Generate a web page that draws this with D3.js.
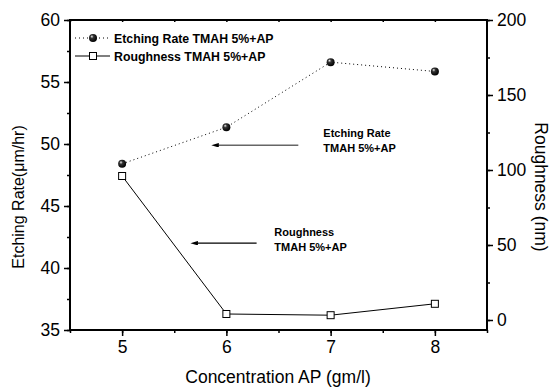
<!DOCTYPE html>
<html>
<head>
<meta charset="utf-8">
<script src="https://cdn.jsdelivr.net/npm/d3@7"></script>
<style>
  body { margin: 0; background: #fff; }
  svg { font-family: Arial, "Liberation Sans", sans-serif; }
</style>
</head>
<body>
<div id="chart"></div>
<script>
// data
const concentration = [5, 6, 7, 8];
const etchingRate = [48.4, 51.35, 56.6, 55.85];
const roughness = [96, 4, 3.2, 10.8];
const leftTicks = [35, 40, 45, 50, 55, 60];
const rightTicks = [0, 50, 100, 150, 200];
const xTicks = [5, 6, 7, 8];
const seriesNames = ['Etching Rate TMAH 5%+AP', 'Roughness TMAH 5%+AP'];

const width = 550, height = 389;
const margin = {top: 20, right: 63, bottom: 59, left: 70};
const innerW = width - margin.left - margin.right;
const innerH = height - margin.top - margin.bottom;

const svg = d3.select('#chart').append('svg')
    .attr('width', width).attr('height', height);

const g = svg.append('g')
    .attr('transform', 'translate(' + margin.left + ',' + margin.top + ')');

const x = d3.scaleLinear().domain([4.5, 8.5]).range([0, innerW]);
const yL = d3.scaleLinear().domain([35, 60]).range([innerH, 0]);
const yR = d3.scaleLinear().domain([-6.67, 200]).range([innerH, 0]);

// minor ticks
const minorX = d3.range(4.5, 8.51, 0.5);
const minorL = d3.range(35, 60.01, 2.5);
const minorR = d3.range(0, 200.01, 25);

function styleAxis(sel) {
    sel.select('.domain').remove();
    sel.selectAll('line').attr('stroke', '#000').attr('stroke-width', 1.5);
    sel.selectAll('text').attr('font-size', 17.5).attr('fill', '#000');
}

g.append('g').attr('transform', 'translate(0,' + innerH + ')')
    .call(d3.axisBottom(x).tickValues(minorX).tickSize(3).tickFormat(''))
    .call(styleAxis);
g.append('g').attr('transform', 'translate(0,' + innerH + ')')
    .call(d3.axisBottom(x).tickValues(xTicks).tickSize(6).tickPadding(5).tickFormat(d3.format('d')))
    .call(styleAxis);

g.append('g')
    .call(d3.axisTop(x).tickValues(minorX).tickSize(-2).tickFormat(''))
    .call(styleAxis);

g.append('g')
    .call(d3.axisLeft(yL).tickValues(minorL).tickSize(3).tickFormat(''))
    .call(styleAxis);
g.append('g')
    .call(d3.axisLeft(yL).tickValues(leftTicks).tickSize(6).tickPadding(4).tickFormat(d3.format('d')))
    .call(styleAxis);

g.append('g').attr('transform', 'translate(' + innerW + ',0)')
    .call(d3.axisRight(yR).tickValues(minorR).tickSize(3).tickFormat(''))
    .call(styleAxis);
g.append('g').attr('transform', 'translate(' + innerW + ',0)')
    .call(d3.axisRight(yR).tickValues(rightTicks).tickSize(6).tickPadding(4).tickFormat(d3.format('d')))
    .call(styleAxis);

// frame
g.append('rect')
    .attr('width', innerW).attr('height', innerH)
    .attr('fill', 'none').attr('stroke', '#000').attr('stroke-width', 2);

// gradient for ball markers
const defs = svg.append('defs');
const grad = defs.append('radialGradient').attr('id', 'ball')
    .attr('cx', '40%').attr('cy', '40%').attr('r', '60%').attr('fx', '35%').attr('fy', '30%');
grad.append('stop').attr('offset', '0%').attr('stop-color', '#eee');
grad.append('stop').attr('offset', '35%').attr('stop-color', '#333');
grad.append('stop').attr('offset', '100%').attr('stop-color', '#000');

const etchData = concentration.map((c, i) => ({x: c, y: etchingRate[i]}));
const roughData = concentration.map((c, i) => ({x: c, y: roughness[i]}));

g.append('path').datum(etchData)
    .attr('fill', 'none').attr('stroke', '#000').attr('stroke-width', 1)
    .attr('stroke-dasharray', '1,3')
    .attr('d', d3.line().x(d => x(d.x)).y(d => yL(d.y)));

g.append('path').datum(roughData)
    .attr('fill', 'none').attr('stroke', '#000').attr('stroke-width', 1)
    .attr('d', d3.line().x(d => x(d.x)).y(d => yR(d.y)));

g.selectAll('.etch').data(etchData).enter().append('circle')
    .attr('cx', d => x(d.x)).attr('cy', d => yL(d.y)).attr('r', 4)
    .attr('fill', 'url(#ball)');

g.selectAll('.rough').data(roughData).enter().append('rect')
    .attr('x', d => x(d.x) - 3.5).attr('y', d => yR(d.y) - 3.5)
    .attr('width', 7).attr('height', 7)
    .attr('fill', '#fff').attr('stroke', '#000').attr('stroke-width', 1);

// legend
const leg = g.append('g').attr('transform', 'translate(5,18)');
leg.append('line').attr('x1', 0).attr('x2', 35).attr('y1', 0).attr('y2', 0)
    .attr('stroke', '#000').attr('stroke-dasharray', '1,3');
leg.append('circle').attr('cx', 18).attr('cy', 0).attr('r', 4).attr('fill', 'url(#ball)');
leg.append('line').attr('x1', 0).attr('x2', 35).attr('y1', 18).attr('y2', 18)
    .attr('stroke', '#000').attr('stroke-width', 1.2);
leg.append('rect').attr('x', 14.5).attr('y', 14.5).attr('width', 7).attr('height', 7)
    .attr('fill', '#fff').attr('stroke', '#000');
leg.selectAll('text').data(seriesNames).enter().append('text')
    .attr('x', 39).attr('y', (d, i) => i * 18 + 4.5)
    .attr('font-size', 12.3).attr('font-weight', 'bold').text(d => d);

// annotations (positions in data units)
const notes = [
    {x1: 6.69, x2: 5.92, y: 49.9, tx: 6.93, ty: 50.6, text: ['Etching Rate', 'TMAH 5%+AP'], color: '#666'},
    {x1: 6.29, x2: 5.72, y: 42, tx: 6.46, ty: 42.6, text: ['Roughness', 'TMAH 5%+AP'], color: '#000'}
];
defs.append('marker')
    .attr('id', 'arr')
    .attr('viewBox', '0 0 10 6').attr('refX', 1).attr('refY', 3)
    .attr('markerWidth', 9).attr('markerHeight', 4.5).attr('markerUnits', 'userSpaceOnUse')
    .attr('orient', 'auto')
    .append('path').attr('d', 'M10,3L0,0L0,6Z').attr('fill', '#000');

notes.forEach(a => {
    g.append('line')
        .attr('x1', x(a.x1)).attr('x2', x(a.x2))
        .attr('y1', yL(a.y)).attr('y2', yL(a.y))
        .attr('stroke', a.color).attr('stroke-width', 1.3)
        .attr('marker-end', 'url(#arr)');
    g.append('text')
        .attr('font-size', 11).attr('font-weight', 'bold')
        .selectAll('tspan').data(a.text).enter().append('tspan')
        .attr('x', x(a.tx)).attr('y', (d, i) => yL(a.ty) + i * 15).text(d => d);
});

// axis titles
svg.append('text').attr('x', 278).attr('y', 383)
    .attr('text-anchor', 'middle').attr('font-size', 17.5).text('Concentration AP (gm/l)');
svg.append('text').attr('transform', 'translate(24,197) rotate(-90)')
    .attr('text-anchor', 'middle').attr('font-size', 16).text('Etching Rate(μm/hr)');
svg.append('text').attr('transform', 'translate(535,187) rotate(90)')
    .attr('text-anchor', 'middle').attr('font-size', 17.5).text('Roughness (nm)');
</script>
</body>
</html>
